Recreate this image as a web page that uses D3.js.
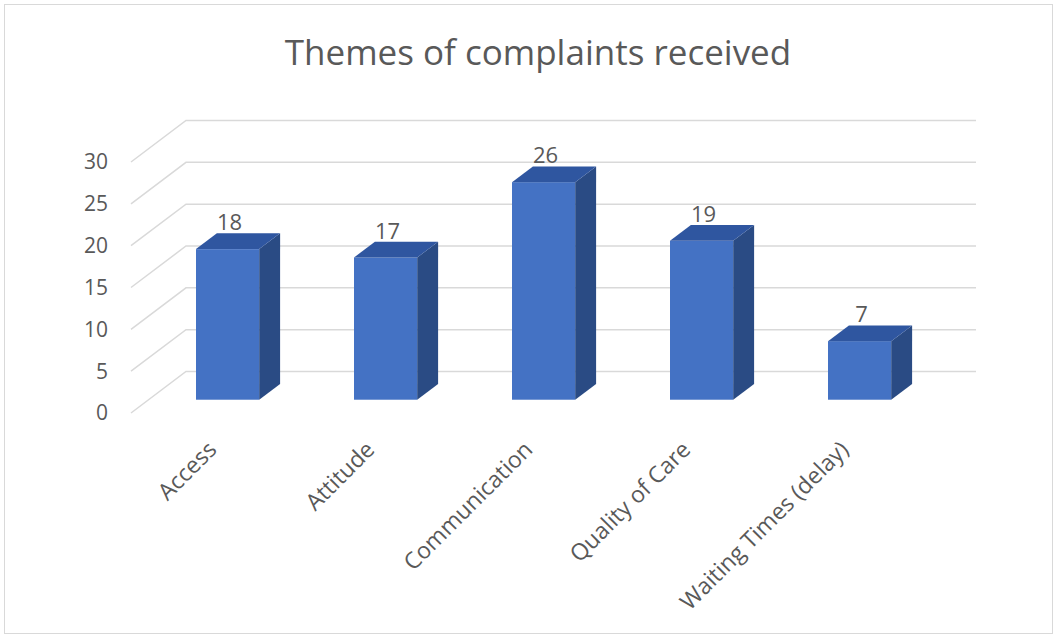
<!DOCTYPE html>
<html>
<head>
<meta charset="utf-8">
<script src="https://cdn.jsdelivr.net/npm/d3@7"></script>
<style>
  html, body { margin: 0; padding: 0; background: #ffffff; }
  svg { display: block; }
</style>
</head>
<body>
<svg id="chart" width="1060" height="639"></svg>
<script>
// ---- data ----
const title = "Themes of complaints received";
const categories = ["Access", "Attitude", "Communication", "Quality of Care", "Waiting Times (delay)"];
const values = [18, 17, 26, 19, 7];
const yTicks = [0, 5, 10, 15, 20, 25, 30];

// ---- layout ----
const depthDX = 55, depthDY = 41.5;      // full floor depth offset
const barT1 = 0.32, barT2 = 0.70;        // bar front/back depth fractions
const font = "'Open Sans', 'Noto Sans', sans-serif";
const textColor = "#595959";

const svg = d3.select("#chart");

svg.append("rect")
  .attr("x", 4.5).attr("y", 4.5)
  .attr("width", 1048).attr("height", 629)
  .attr("fill", "#ffffff")
  .attr("stroke", "#d9d9d9").attr("stroke-width", 1);

// scales (front plane)
const y = d3.scaleLinear().domain([0, 30]).range([413, 162]);
const x = d3.scaleBand().domain(categories).range([131, 921])
  .paddingInner(0.6).paddingOuter(0.3);

const off = t => [depthDX * t, -depthDY * t];

// title
svg.append("text")
  .attr("x", 538).attr("y", 65)
  .attr("text-anchor", "middle")
  .attr("font-family", font).attr("font-size", 35)
  .attr("fill", textColor)
  .text(title);

// gridlines: diagonal side wall + back wall lines
const grid = svg.append("g").attr("stroke", "#d9d9d9").attr("stroke-width", 1.5).attr("fill", "none");
yTicks.forEach(v => {
  const [bx, by] = off(1);
  const x0 = x.range()[0], x1 = x.range()[1];
  grid.append("path")
    .attr("d", `M${x0},${y(v)} L${x0 + bx},${y(v) + by} L${x1 + bx},${y(v) + by}`);
});

// y axis labels
svg.append("g").selectAll("text").data(yTicks).join("text")
  .attr("x", 108).attr("y", d => y(d))
  .attr("dy", "0.35em")
  .attr("text-anchor", "end")
  .attr("font-family", font).attr("font-size", 21)
  .attr("fill", textColor)
  .text(d => d);

// bars
const bars = svg.append("g");
const [f1x, f1y] = off(barT1);
const sdx = depthDX * (barT2 - barT1), sdy = depthDY * (barT2 - barT1);
categories.forEach((c, i) => {
  const v = values[i];
  const xL = x(c) + f1x, xR = xL + x.bandwidth();
  const yT = y(v) + f1y, yB = y(0) + f1y;
  const g = bars.append("g");
  g.append("rect")
    .attr("x", xL).attr("y", yT)
    .attr("width", xR - xL).attr("height", yB - yT)
    .attr("fill", "#4472c4");
  g.append("path")
    .attr("d", `M${xR},${yT} L${xR + sdx},${yT - sdy} L${xR + sdx},${yB - sdy} L${xR},${yB} Z`)
    .attr("fill", "#2a4b84");
  g.append("path")
    .attr("d", `M${xL},${yT} L${xL + sdx},${yT - sdy} L${xR + sdx},${yT - sdy} L${xR},${yT} Z`)
    .attr("fill", "#2f56a0");
  g.append("text")
    .attr("x", (xL + xR) / 2 + 2).attr("y", yT - sdy - 3)
    .attr("text-anchor", "middle")
    .attr("font-family", font).attr("font-size", 22)
    .attr("fill", textColor)
    .text(v);
});

// category labels
svg.append("g").selectAll("text").data(categories).join("text")
  .attr("transform", d => `translate(${x(d) + x.bandwidth() / 2 + 8},451) rotate(-45)`)
  .attr("text-anchor", "end")
  .attr("font-family", font).attr("font-size", 23)
  .attr("fill", textColor)
  .text(d => d);
</script>
</body>
</html>
